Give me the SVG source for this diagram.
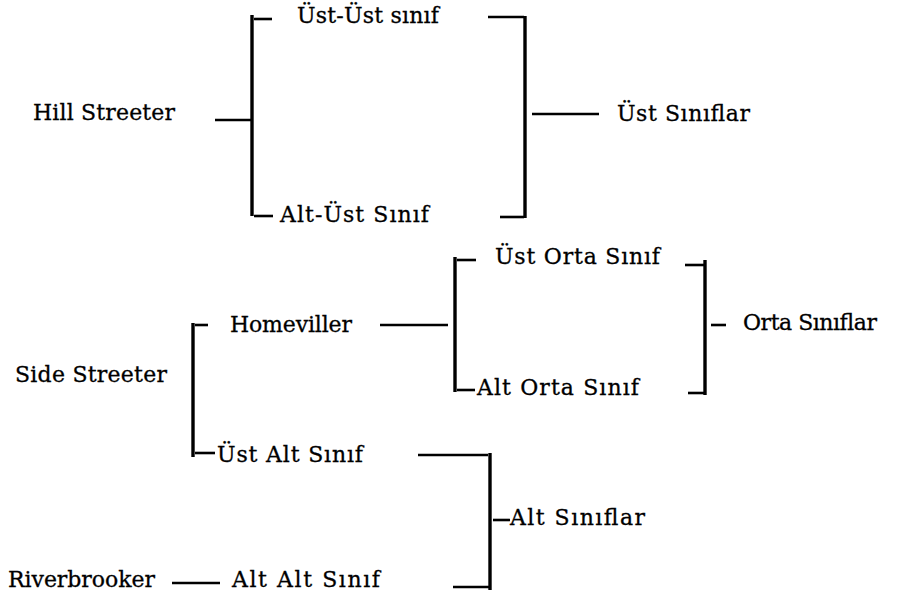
<svg xmlns="http://www.w3.org/2000/svg" width="901" height="601" viewBox="0 0 901 601">
<style>
text{font-family:"DejaVu Serif","Liberation Serif",serif;font-size:22px;fill:#000;stroke:#000;stroke-width:0.3}
.v{stroke:#000;stroke-width:3.4;fill:none}
.h{stroke:#000;stroke-width:2.6;fill:none}
</style>
<rect width="901" height="601" fill="#fff"/>
<g id="connectors">
<line class="h" x1="215" y1="120" x2="252" y2="120"/>
<line class="v" x1="252" y1="15" x2="252" y2="216"/>
<line class="h" x1="254" y1="19" x2="272" y2="19"/>
<line class="h" x1="254" y1="216" x2="273" y2="216"/>
<line class="v" x1="525" y1="16" x2="525" y2="218"/>
<line class="h" x1="488" y1="17" x2="524" y2="17"/>
<line class="h" x1="500" y1="217" x2="524" y2="217"/>
<line class="h" x1="532" y1="114" x2="599" y2="114"/>
<line class="v" x1="193" y1="323" x2="193" y2="457"/>
<line class="h" x1="195" y1="325" x2="208" y2="325"/>
<line class="h" x1="195" y1="453" x2="215" y2="453"/>
<line class="h" x1="380" y1="325" x2="448" y2="325"/>
<line class="v" x1="455" y1="257" x2="455" y2="392"/>
<line class="h" x1="457" y1="260" x2="476" y2="260"/>
<line class="h" x1="457" y1="390" x2="475" y2="390"/>
<line class="v" x1="705" y1="260" x2="705" y2="395"/>
<line class="h" x1="685" y1="265" x2="704" y2="265"/>
<line class="h" x1="688" y1="393" x2="704" y2="393"/>
<line class="h" x1="711" y1="325" x2="726" y2="325"/>
<line class="h" x1="418" y1="455" x2="488" y2="455"/>
<line class="v" x1="490" y1="453" x2="490" y2="590"/>
<line class="h" x1="453" y1="587" x2="489" y2="587"/>
<line class="h" x1="493" y1="520" x2="510" y2="520"/>
<line class="h" x1="172" y1="583" x2="220" y2="583"/>
</g>
<g id="hill-streeter"><text x="33" y="120" textLength="142" lengthAdjust="spacing">Hill Streeter</text></g>
<g id="ust-ust"><text x="297" y="23" textLength="142" lengthAdjust="spacing">Üst-Üst sınıf</text></g>
<g id="alt-ust"><text x="280" y="222" textLength="149" lengthAdjust="spacing">Alt-Üst Sınıf</text></g>
<g id="ust-siniflar"><text x="617" y="121" textLength="133" lengthAdjust="spacing">Üst Sınıflar</text></g>
<g id="side-streeter"><text x="15" y="382" textLength="152" lengthAdjust="spacing">Side Streeter</text></g>
<g id="homeviller"><text x="230" y="332" textLength="122" lengthAdjust="spacing">Homeviller</text></g>
<g id="ust-orta"><text x="495" y="264" textLength="165" lengthAdjust="spacing">Üst Orta Sınıf</text></g>
<g id="alt-orta"><text x="477" y="395" textLength="162" lengthAdjust="spacing">Alt Orta Sınıf</text></g>
<g id="orta-siniflar"><text x="743" y="330" textLength="134" lengthAdjust="spacing">Orta Sınıflar</text></g>
<g id="ust-alt"><text x="217" y="462" textLength="146" lengthAdjust="spacing">Üst Alt Sınıf</text></g>
<g id="alt-siniflar"><text x="510" y="525" textLength="135" lengthAdjust="spacing">Alt Sınıflar</text></g>
<g id="riverbrooker"><text x="8" y="587" textLength="147" lengthAdjust="spacing">Riverbrooker</text></g>
<g id="alt-alt"><text x="232" y="587" textLength="148" lengthAdjust="spacing">Alt Alt Sınıf</text></g>
</svg>
